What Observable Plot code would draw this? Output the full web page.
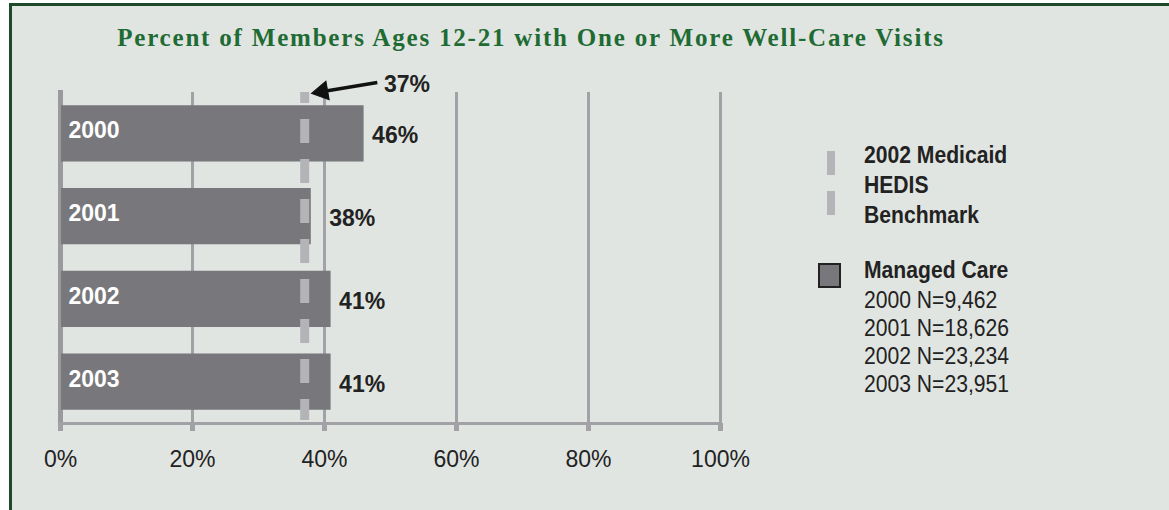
<!DOCTYPE html>
<html>
<head>
<meta charset="utf-8">
<script src="https://cdn.jsdelivr.net/npm/d3@7"></script>
<script src="https://cdn.jsdelivr.net/npm/@observablehq/plot@0.6"></script>
<style>
  html, body { margin: 0; padding: 0; background: #ffffff; }
  #page { position: relative; width: 1169px; height: 510px; overflow: hidden; background: #ffffff; }
  #panel { position: absolute; left: 9px; top: 3px; width: 1160px; height: 510px;
           border-top: 3px solid #1d4a2b; border-left: 3px solid #1d4a2b; background: #e1e5e1; }
  #title { position: absolute; left: 0; width: 1062px; top: 25px; text-align: center;
           font-family: "Liberation Serif", serif; font-weight: bold; font-size: 25px; line-height: 1;
           letter-spacing: 1.8px; color: #1e6b34; white-space: nowrap; }
  #chart { position: absolute; left: 0; top: 0; }
  .narrow { font-family: "Liberation Sans Narrow", "Arial Narrow", "Liberation Sans", sans-serif; }
  #legend { position: absolute; left: 0; top: 0; width: 1169px; height: 510px; color: #222; }
  .lg { position: absolute; left: 864px; font-size: 24px; line-height: 1; white-space: nowrap;
        transform: scaleX(0.88); transform-origin: 0 50%; }
  .b { font-weight: bold; }
  .dash { position: absolute; left: 827px; width: 8px; height: 24px; background: #b4b4b8; }
  .sq { position: absolute; left: 818px; top: 263px; width: 19px; height: 21px; background: #78787c; border: 2px solid #222; }
</style>
</head>
<body>
<div id="page">
  <div id="panel"></div>
  <div id="title">Percent of Members Ages 12-21 with One or More Well-Care Visits</div>
  <div id="chart"></div>
  <div id="legend" class="narrow"></div>
</div>
<script>
// ---- data ----
const years = ["2000", "2001", "2002", "2003"];
const managedCare = [46, 38, 41, 41];
const benchmark = 37;
const xTicks = [0, 20, 40, 60, 80, 100];
const benchmarkLegend = ["2002 Medicaid", "HEDIS", "Benchmark"];
const seriesLegend = "Managed Care";
const sampleSizes = ["2000 N=9,462", "2001 N=18,626", "2002 N=23,234", "2003 N=23,951"];

const rows = years.map((year, i) => ({year, i, value: managedCare[i]}));

const font = '"Liberation Sans Narrow", "Arial Narrow", "Liberation Sans", sans-serif';
const gridColor = "#a2a2a6";
const barColor = "#78787c";
const dashColor = "#b4b4b8";

const chart = Plot.plot({
  width: 1169,
  height: 510,
  marginLeft: 60,
  marginRight: 449,
  marginTop: 92,
  marginBottom: 87,
  style: {background: "transparent", fontFamily: font, overflow: "visible"},
  x: {domain: [0, 100]},
  y: {domain: [-0.5, 3.5], reverse: true, axis: null},
  marks: [
    Plot.ruleX(xTicks.filter(d => d > 0), {stroke: gridColor, strokeWidth: 3}),
    Plot.ruleX([0], {stroke: "#9a9a9e", strokeWidth: 5, insetTop: -2}),
    Plot.frame({anchor: "bottom", stroke: gridColor, strokeWidth: 3}),
    Plot.axisX({
      ticks: xTicks, tickSize: 8, tickPadding: 19, strokeWidth: 5, stroke: gridColor,
      tickFormat: d => d + "%", fontSize: 23, fill: "#222", label: null
    }),
    Plot.rectX(rows, {x1: 0, x2: "value", y1: d => d.i - 0.34, y2: d => d.i + 0.34, fill: barColor, insetLeft: 1}),
    Plot.ruleX([benchmark], {stroke: dashColor, strokeWidth: 9, strokeDasharray: "24,16", strokeDashoffset: 13, insetBottom: 3}),
    Plot.text(rows, {x: 0, y: "i", text: "year", textAnchor: "start", dx: 8, dy: -3, fill: "#ffffff",
      fontWeight: "bold", fontSize: 23}),
    Plot.text(rows, {x: d => Math.max(d.value, benchmark + 2.5), y: "i", text: d => d.value + "%",
      textAnchor: "start", dx: 8, dy: 2, fill: "#222", fontWeight: "bold", fontSize: 23}),
    // annotation arrow: shaft + filled head
    Plot.link([benchmark], {x1: d => d + 11, y1: -0.62, x2: d => d + 3, y2: -0.515,
      stroke: "#111", strokeWidth: 3.5}),
    Plot.dot([benchmark], {x: d => d + 2.65, y: -0.512, symbol: "triangle", r: 7, rotate: 260,
      fill: "#111", stroke: "#111", strokeWidth: 1}),
    Plot.text([benchmark], {x: d => d + 12, y: -0.6, text: d => d + "%", textAnchor: "start",
      fill: "#222", fontWeight: "bold", fontSize: 23})
  ]
});
document.getElementById("chart").appendChild(chart);

// ---- legend ----
const legend = document.getElementById("legend");
const add = (html) => legend.insertAdjacentHTML("beforeend", html);
add(`<div class="dash" style="top:151px"></div><div class="dash" style="top:191px"></div>`);
benchmarkLegend.forEach((t, k) => add(`<div class="lg b" style="top:${143 + k * 30}px">${t}</div>`));
add(`<div class="sq"></div>`);
add(`<div class="lg b" style="top:258px">${seriesLegend}</div>`);
sampleSizes.forEach((t, k) => add(`<div class="lg" style="top:${288 + k * 28}px">${t}</div>`));
</script>
</body>
</html>
